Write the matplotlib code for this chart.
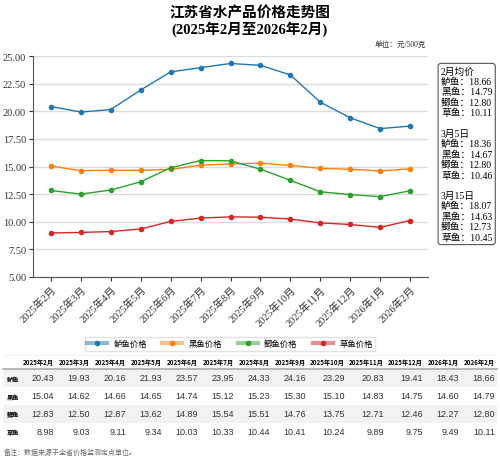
import matplotlib
matplotlib.use("Agg")
import matplotlib.pyplot as plt
from matplotlib.lines import Line2D
from matplotlib.patches import Rectangle

plt.rcParams['font.family'] = ['Liberation Serif', 'Noto Sans CJK SC', 'DejaVu Sans']

months = ['2025年2月', '2025年3月', '2025年4月', '2025年5月', '2025年6月', '2025年7月',
          '2025年8月', '2025年9月', '2025年10月', '2025年11月', '2025年12月',
          '2026年1月', '2026年2月']
fish = ['鲈鱼', '黑鱼', '鲫鱼', '草鱼']
luyu = [20.43, 19.93, 20.16, 21.93, 23.57, 23.95, 24.33, 24.16, 23.29, 20.83, 19.41, 18.43, 18.66]
heiyu = [15.04, 14.62, 14.66, 14.65, 14.74, 15.12, 15.23, 15.30, 15.10, 14.83, 14.75, 14.60, 14.79]
jiyu = [12.83, 12.50, 12.87, 13.62, 14.89, 15.54, 15.51, 14.76, 13.75, 12.71, 12.46, 12.27, 12.80]
caoyu = [8.98, 9.03, 9.11, 9.34, 10.03, 10.33, 10.44, 10.41, 10.24, 9.89, 9.75, 9.49, 10.11]
series = [luyu, heiyu, jiyu, caoyu]
colors = ['#1f77b4', '#ff7f0e', '#2ca02c', '#d62728']

# 右侧提示框
notes = [('2月均价', [18.66, 14.79, 12.80, 10.11]),
         ('3月5日', [18.36, 14.67, 12.80, 10.46]),
         ('3月15日', [18.07, 14.63, 12.73, 10.45])]

fig = plt.figure(figsize=(5, 4.64), dpi=100)
ax = fig.add_axes([0.066, 0.401, 0.79, 0.476])

x = list(range(len(months)))
for vals, c in zip(series, colors):
    ax.plot(x, vals, color=c, lw=1, marker='o', ms=3)

ax.set_ylim(5, 25)
ax.set_yticks([5, 7.5, 10, 12.5, 15, 17.5, 20, 22.5, 25])
ax.set_yticklabels([f'{v:.2f}' for v in ax.get_yticks()], fontsize=7.5)
ax.set_xlim(-0.6, 12.6)
ax.set_xticks(x)
ax.set_xticklabels(months, rotation=45, ha='right', rotation_mode='anchor', fontsize=7.5)
ax.grid(axis='y', color='#dddddd', lw=1)
ax.set_axisbelow(True)
for s in ['top', 'right']:
    ax.spines[s].set_visible(False)
ax.spines['left'].set_color('#555555')
ax.spines['bottom'].set_color('#555555')
ax.tick_params(colors='#333333', length=3, pad=2)

fig.text(0.5, 0.972, '江苏省水产品价格走势图', ha='center', va='center',
         fontsize=10.5, fontweight='bold')
fig.text(0.5, 0.938, '(2025年2月至2026年2月)', ha='center', va='center',
         fontsize=10.5, fontweight='bold')
fig.text(0.852, 0.903, '单位：元/500克', ha='right', va='center', fontsize=5.5, color='#333333')

lines = []
for title, vals in notes:
    lines.append(title)
    for f, v in zip(fish, vals):
        lines.append(f'{f}：{v:.2f}')
    lines.append('')
fig.text(0.882, 0.855, '\n'.join(lines[:-1]), ha='left', va='top', fontsize=7,
         linespacing=1.15,
         bbox=dict(boxstyle='round,pad=0.3', fc='white', ec='#555555', lw=0.8))

handles = [(Line2D([], [], color=c, lw=3, alpha=0.5),
            Line2D([], [], color=c, lw=0, marker='o', ms=3)) for c in colors]
fig.legend(handles, [f + '价格' for f in fish], loc='center',
           bbox_to_anchor=(0.46, 0.257), ncol=4, fontsize=6, frameon=True,
           edgecolor='#dddddd', fancybox=False, handlelength=2.4, columnspacing=1.8,
           borderpad=0.3)

# 底部数据表
tab = fig.add_axes([0, 0, 1, 1])
tab.set_xlim(0, 500)
tab.set_ylim(464, 0)
tab.axis('off')
top, head_h, row_h = 356, 14, 18
widths = [36 if len(m) == 7 else 39 for m in months]
rights = []
r = 18
for w in widths:
    r += w
    rights.append(r)
tab.plot([3, 497], [top, top], color='#eeeeee', lw=0.6)
tab.plot([3, 497], [top + head_h, top + head_h], color='#aaaaaa', lw=1.2)
for m, rx in zip(months, rights):
    tab.text(rx, top + head_h / 2, m, ha='right', va='center', fontsize=4.5,
             fontweight='bold', family=['Noto Sans CJK SC'])
for i, (f, vals) in enumerate(zip(fish, series)):
    y0 = top + head_h + i * row_h
    if i % 2 == 0:
        tab.add_patch(Rectangle((3, y0), 494, row_h, fc='#f2f2f2', ec='none'))
    tab.text(7, y0 + row_h / 2, f, ha='left', va='center', fontsize=4.5,
             fontweight='bold', family=['Noto Sans CJK SC'])
    for v, rx in zip(vals, rights):
        tab.text(rx, y0 + row_h / 2, f'{v:.2f}', ha='right', va='center',
                 fontsize=6.5, color='#333333', family=['Liberation Sans'])

fig.text(0.008, 0.025, '备注：数据来源于全省价格监测定点单位。', ha='left', va='center',
         fontsize=5, color='#666666')

fig.savefig('out.png', dpi=100)
